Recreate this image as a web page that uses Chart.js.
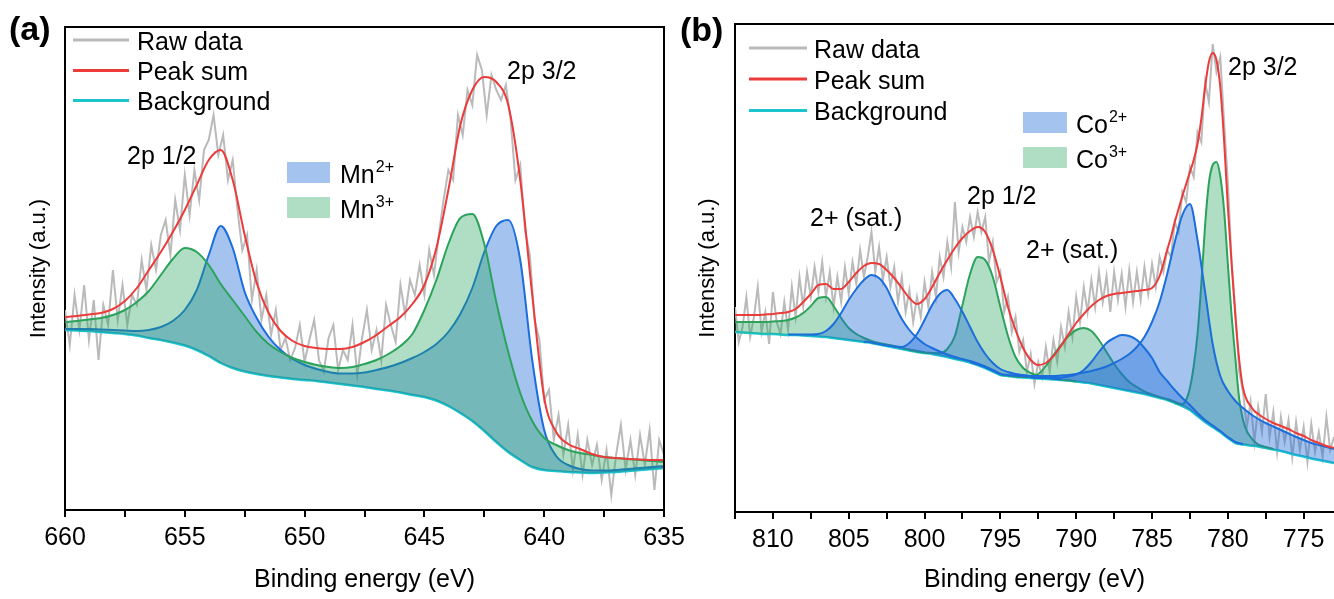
<!DOCTYPE html>
<html>
<head>
<meta charset="utf-8">
<title>Mn 2p and Co 2p XPS spectra</title>
<script src="https://cdn.jsdelivr.net/npm/chart.js@4.4.1/dist/chart.umd.min.js"></script>
<style>
  html, body { margin: 0; padding: 0; background: #fff; }
  #page { position: relative; width: 1334px; height: 599px; overflow: hidden; }
  #wrapA { position: absolute; left: 0; top: 0; width: 700px; height: 599px; }
  #wrapB { position: absolute; left: 667px; top: 0; width: 667px; height: 599px; }
</style>
</head>
<body>
<div id="page">
  <div id="wrapA"><canvas id="mn" width="700" height="599"></canvas></div>
  <div id="wrapB"><canvas id="co" width="667" height="599"></canvas></div>
</div>
<script>
const FONT = "'Liberation Sans', Arial, sans-serif";
const C = {
  raw: '#bababa',
  sum: '#ec3b3b',
  bg: '#1cc4ce',
  blueLine: '#1b6edb',
  greenLine: '#2ca35c',
  blueFill: 'rgba(33,111,216,0.41)',
  greenFill: 'rgba(36,163,91,0.36)'
};

// ---------- panel (a): Mn 2p ----------
const mnTicks = [660, 657.5, 655, 652.5, 650, 647.5, 645, 642.5, 640, 637.5, 635];
const mnGrid = [660, 659.5, 659, 658.5, 658, 657.5, 657, 656.5, 656, 655.5, 655, 654.5, 654, 653.5, 653, 652.5, 652, 651.5, 651, 650.5,
  650, 649.5, 649, 648.5, 648, 647.5, 647, 646.5, 646, 645.5, 645, 644.5, 644, 643.5, 643, 642.5, 642, 641.5, 641, 640.5,
  640, 639.5, 639, 638.5, 638, 637.5, 637, 636.5, 636, 635.5, 635];
const mnBackground = [180, 179.5, 179, 178, 177, 176, 174.5, 172, 170, 167.5, 164.5, 160, 154, 147, 142, 138.5, 136, 134, 132.5, 131,
  130, 129, 127.5, 126, 124.5, 123, 121, 119.5, 117.5, 115, 113, 109.5, 104, 97, 89, 79, 68, 58, 50, 43,
  40, 39, 38, 37.5, 37, 37.5, 38, 39, 40, 41, 42];
const mn2Plus = [181, 181, 181, 180.5, 180, 179.5, 179, 180, 183, 189, 200, 220, 255, 284, 262, 218, 192, 173, 160, 151,
  145, 141, 138, 136.5, 136.5, 137.5, 140, 143, 147, 152, 158, 166, 178, 196, 222, 258, 284, 290, 250, 150,
  80, 54, 45, 41, 39.5, 39.5, 40, 41, 42, 43, 44];
const mn3Plus = [188, 189, 190.5, 192, 195, 200, 208, 219, 235, 251, 262, 258, 245, 226, 210, 194, 178, 166, 158, 152,
  148, 145, 143, 142, 143, 146, 150, 156, 164, 176, 200, 230, 266, 292, 296, 266, 208, 158, 117, 89,
  72, 65, 60, 57, 55, 53, 52, 51, 50, 49, 48];
const mnPeakSum = [193, 194, 195.5, 197, 201, 209, 222, 240, 258, 278, 300, 325, 350, 360, 330, 275, 227, 197, 179, 169,
  164, 162, 161, 161, 163, 168, 175, 184, 193, 206, 225, 262, 320, 385, 420, 433, 428, 405, 330, 215,
  112, 78, 66, 61, 56, 53, 52, 51, 50.5, 50, 50];
// raw spectrum, 0.2 eV channels from 660 eV downwards
const mnRawStart = 660, mnRawStep = 0.2;
const mnRaw = [200, 165, 215, 180, 225, 170, 210, 150, 205, 185,
  240, 190, 225, 185, 215, 205, 250, 220, 265, 240,
  275, 290, 255, 310, 280, 335, 295, 340, 310, 360,
  370, 395, 355, 375, 330, 350, 300, 260, 275, 210,
  240, 190, 215, 175, 200, 160, 172, 150, 162, 185,
  148, 170, 190, 150, 138, 172, 185, 140, 160, 150,
  185, 135, 172, 200, 160, 180, 150, 205, 185, 168,
  225, 195, 230, 215, 245, 215, 260, 235, 275, 310,
  340, 330, 395, 375, 420, 405, 455, 440, 395, 435,
  420, 410, 425, 390, 330, 345, 280, 255, 190, 170,
  110, 120, 70, 95, 55, 85, 40, 75, 35, 70,
  45, 65, 30, 60, 15, 55, 85, 40, 70, 35,
  75, 45, 80, 20, 70, 55];

// ---------- panel (b): Co 2p ----------
const coTicks = [812.5, 810, 807.5, 805, 802.5, 800, 797.5, 795, 792.5, 790, 787.5, 785, 782.5, 780, 777.5, 775];
const coGrid = [812.5, 812, 811.5, 811, 810.5, 810, 809.5, 809, 808.5, 808, 807.5, 807, 806.5, 806, 805.5, 805, 804.5, 804, 803.5, 803,
  802.5, 802, 801.5, 801, 800.5, 800, 799.5, 799, 798.5, 798, 797.5, 797, 796.5, 796, 795.5, 795, 794.5, 794, 793.5, 793,
  792.5, 792, 791.5, 791, 790.5, 790, 789.5, 789, 788.5, 788, 787.5, 787, 786.5, 786, 785.5, 785, 784.5, 784, 783.5, 783,
  782.5, 782, 781.5, 781, 780.5, 780, 779.5, 779, 778.5, 778, 777.5, 777, 776.5, 776, 775.5, 775, 774.5, 774, 773.5, 773];
const coFineE = [784, 783.75, 783.5, 783.25, 783, 782.75, 782.5, 782.25, 782, 781.75, 781.5, 781.25, 781, 780.75, 780.5,
  780.25, 780, 779.75, 779.5, 779.25, 779, 778.75, 778.5, 778.25, 778, 777.75, 777.5, 777.25, 777];
const coBackground = [180, 179.5, 179, 178.5, 178, 178, 177.5, 177, 177, 176.5,
  176, 175.5, 175, 174, 173, 172, 171, 170, 169, 167.5,
  166, 164.5, 163, 161.5, 160, 159, 158, 156.5, 155, 153,
  151.5, 149.5, 147, 144, 140.5, 137, 136, 135, 134.5, 134,
  133.5, 133, 132.5, 132, 131.5, 130.5, 129.5, 128.5, 127, 125.5,
  124, 122.5, 121, 119.5, 118, 116, 114, 112, 109, 106,
  102, 96, 90, 85, 80, 74, 69, 67.5, 66.5, 65.5,
  64, 62.5, 61, 59, 57, 55.5, 53.5, 52, 50.5, 49];
// peak sum: coarse part 812.5-784.5, fine part 784-778, coarse tail 777.5-773
const coSumCoarse = [197, 197, 197, 197, 197.5, 198, 199, 200, 203, 210,
  218, 227, 228, 223, 223, 230, 239, 246, 249, 248,
  242, 234, 224, 214, 208, 213, 225, 239, 252, 264,
  274, 281, 285, 280, 262, 235, 205, 182, 164, 152,
  147, 149, 156, 166, 178, 189, 198, 206, 212, 216,
  218, 219, 220, 221, 222, 224, 236];
const coSumFine = [262, 275, 290, 303, 316, 328, 340, 352, 368, 393, 425, 450, 459, 452, 425, 372, 305, 248, 195, 152,
  124, 112, 106, 101, 98];
const coSumTail = [93, 89, 86, 83, 79, 76, 72, 69, 66, 64];
// Co2+ components (start energy on coGrid, 0.5 eV steps)
const co2SatHighStart = 809;
const co2SatHigh = [177.5, 177.5, 177.5, 177.5, 178, 181, 188, 199, 212, 223, 232, 237, 234, 224, 208, 193, 182, 174, 168, 164,
  160.5, 157.5, 155, 153, 151, 148.5, 145.5, 142, 138];
const co2HalfStart = 804;
const co2Half = [170.5, 169.5, 168, 166.5, 165.5, 165, 169, 178, 192, 207, 218, 222, 213, 200, 185, 170, 158, 149, 143, 140,
  138, 137, 136, 135, 134.5, 133.5, 132.5];
const co2SatLowStart = 793;
const co2SatLow = [134.5, 134, 134, 134, 134.5, 135.5, 137.5, 142, 150, 160, 169, 174, 177, 176, 172, 164, 154, 140, 131, 122,
  114, 107, 99, 92, 86.5, 81, 75, 70, 68];
const co2MainStart = 797;
const co2Main = [150, 147.5, 145, 141.5, 138, 137, 136.5, 136, 136, 136, 136, 136, 136.5, 137, 138, 139.5, 141, 143, 145.5, 149,
  153, 158, 165, 175, 190, 210, 238, 270, 297, 308, 272, 220, 168, 136, 121, 111, 104, 98, 93, 89,
  85.5, 82, 78.5, 75, 72, 69, 67, 65, 63];
// Co3+ components
const co3SatHighStart = 812.5;
const co3SatHigh = [190, 190, 190, 190, 190, 190.5, 191, 192, 194.5, 199, 206, 214, 215, 206, 194, 184, 178, 174, 171, 169,
  167.5, 166, 164, 162.5, 161, 160];
const co3HalfStart = 801;
const co3Half = [162, 160.5, 159.5, 159, 159, 163, 176, 207, 238, 255, 252, 235, 205, 176, 155, 144, 139, 136, 134.5, 133.5,
  132.5, 131.5, 130.5];
const co3SatLowStart = 795;
const co3SatLow = [137.5, 136.5, 135.5, 135, 135, 138, 146, 157, 167, 176, 182, 184, 181, 172, 160, 148, 138, 130, 125, 120.5,
  117.5, 115, 113, 110, 107];
const co3Main = [113, 111.5, 110, 108.5, 108, 112, 124, 146, 178, 228, 287, 329, 347, 350, 336, 302, 248, 196, 153, 113,
  92, 81, 75, 70.5, 67.5, 66, 65, 64, 63];
// raw spectrum, 0.25 eV channels from 812.5 eV downwards
const coRawStart = 812.5, coRawStep = 0.25;
const coRaw = [205, 170, 185, 215, 175, 195, 225, 180, 200, 168,
  220, 190, 178, 210, 182, 225, 195, 235, 205, 240,
  215, 245, 220, 250, 215, 240, 205, 235, 210, 245,
  218, 250, 228, 262, 235, 255, 280, 240, 265, 232,
  255, 225, 245, 210, 235, 200, 222, 190, 215, 195,
  230, 205, 240, 215, 255, 235, 270, 245, 310, 260,
  285, 270, 295, 275, 300, 280, 295, 250, 270, 230,
  240, 200, 215, 180, 195, 160, 172, 140, 158, 128,
  150, 135, 165, 140, 172, 150, 185, 165, 200, 175,
  215, 190, 225, 200, 232, 205, 240, 210, 236, 200,
  240, 212, 238, 205, 242, 210, 240, 212, 245, 218,
  248, 225, 255, 240, 262, 255, 290, 280, 320, 310,
  345, 335, 380, 370, 430, 410, 468, 440, 455, 390,
  330, 250, 200, 140, 120, 85, 110, 70, 105, 80,
  118, 75, 100, 60, 95, 70, 92, 55, 90, 62,
  85, 50, 88, 60, 80, 55, 95, 62, 75];

// ---------- helpers ----------
function zipPts(xs, ys) { return ys.map((y, i) => ({ x: xs[i], y: y })); }
function onGrid(grid, startE, ys) {
  const i0 = grid.indexOf(startE);
  return ys.map((y, i) => ({ x: grid[i0 + i], y: y }));
}
function channels(startE, step, ys) {
  return ys.map((y, i) => ({ x: +(startE - i * step).toFixed(2), y: y }));
}
function line(label, data, color, width) {
  return { label, data, borderColor: color, borderWidth: width, pointRadius: 0, fill: false,
    cubicInterpolationMode: 'monotone' };
}
function comp(label, data, color, fillColor, bgIndex) {
  return { label, data, borderColor: color, backgroundColor: fillColor, borderWidth: 2, pointRadius: 0,
    fill: bgIndex, cubicInterpolationMode: 'monotone' };
}
function rawLine(data) {
  return { label: 'Raw data', data, borderColor: C.raw, borderWidth: 2, pointRadius: 0, fill: false, tension: 0 };
}

// legends, annotations, panel letters and the top/right frame
function decorations(cfg) {
  return {
    id: 'decorations',
    afterDraw(chart) {
      const ctx = chart.ctx;
      const area = chart.chartArea;
      ctx.save();
      ctx.strokeStyle = '#000';
      ctx.lineWidth = 2;
      ctx.beginPath();
      ctx.moveTo(area.left - 1, area.top);
      ctx.lineTo(area.right, area.top);
      if (cfg.frameRight) ctx.lineTo(area.right, area.bottom + 1);
      ctx.stroke();

      ctx.textAlign = 'left';
      ctx.textBaseline = 'alphabetic';
      ctx.fillStyle = '#000';
      ctx.font = 'bold 34px ' + FONT;
      ctx.fillText(cfg.letter, cfg.letterX, cfg.letterY);

      ctx.font = '25px ' + FONT;
      cfg.lines.forEach((row) => {
        ctx.strokeStyle = row.color;
        ctx.lineWidth = 3;
        ctx.beginPath();
        ctx.moveTo(cfg.lineX0, row.y);
        ctx.lineTo(cfg.lineX1, row.y);
        ctx.stroke();
        ctx.fillText(row.label, cfg.lineTextX, row.y + 9.5);
      });

      cfg.boxes.forEach((row) => {
        ctx.fillStyle = row.color;
        ctx.fillRect(cfg.boxX, row.top, cfg.boxW, 21);
        ctx.fillStyle = '#000';
        ctx.font = '25px ' + FONT;
        ctx.fillText(row.label, cfg.boxTextX, row.top + 21);
        const w = ctx.measureText(row.label).width;
        ctx.font = '16px ' + FONT;
        ctx.fillText(row.sup, cfg.boxTextX + w + 1, row.top + 10);
      });

      ctx.font = '25px ' + FONT;
      cfg.notes.forEach((n) => ctx.fillText(n.text, n.x, n.y));
      ctx.restore();
    }
  };
}

function makeOptions(cfg) {
  return {
    responsive: false,
    animation: false,
    events: [],
    layout: { padding: { left: 0, top: cfg.top, right: cfg.right, bottom: 0 } },
    plugins: { legend: { display: false }, tooltip: { enabled: false } },
    scales: {
      x: {
        type: 'linear', reverse: true, min: cfg.min, max: cfg.max,
        afterBuildTicks: (axis) => { axis.ticks = cfg.ticks.map((v) => ({ value: v })); },
        afterFit: (axis) => { axis.height = cfg.xHeight; },
        ticks: {
          autoSkip: false, maxRotation: 0, padding: 6, color: '#000',
          font: { family: FONT, size: 25 },
          callback: (v) => (v % 5 === 0 ? String(v) : '')
        },
        grid: { drawOnChartArea: false, drawTicks: true, tickLength: 7, color: '#000', lineWidth: 2 },
        border: { display: true, color: '#000', width: 2 },
        title: { display: true, text: 'Binding energy (eV)', color: '#000',
          font: { family: FONT, size: 25 }, padding: { top: 4, bottom: 4 } }
      },
      y: {
        min: 0, max: cfg.ymax,
        afterFit: (axis) => { axis.width = cfg.yWidth; },
        ticks: { display: false },
        grid: { display: false, drawTicks: false },
        border: { display: true, color: '#000', width: 2 },
        title: { display: true, text: 'Intensity (a.u.)', color: '#000',
          font: { family: FONT, size: 22 }, padding: { top: cfg.yTitlePad, bottom: 0 } }
      }
    }
  };
}

Chart.defaults.font.family = FONT;

// panel (a)
new Chart(document.getElementById('mn'), {
  type: 'line',
  data: {
    datasets: [
      line('Peak sum', zipPts(mnGrid, mnPeakSum), C.sum, 2),
      comp('Mn3+', zipPts(mnGrid, mn3Plus), C.greenLine, C.greenFill, 3),
      comp('Mn2+', zipPts(mnGrid, mn2Plus), C.blueLine, C.blueFill, 3),
      line('Background', zipPts(mnGrid, mnBackground), C.bg, 2.5),
      rawLine(channels(mnRawStart, mnRawStep, mnRaw))
    ]
  },
  options: makeOptions({ min: 635, max: 660, ticks: mnTicks, ymax: 483, top: 27, right: 36,
    yWidth: 65, xHeight: 89, yTitlePad: 26 }),
  plugins: [decorations({
    frameRight: true,
    letter: '(a)', letterX: 9, letterY: 40,
    lineX0: 73, lineX1: 129, lineTextX: 137,
    lines: [
      { label: 'Raw data', color: C.raw, y: 40 },
      { label: 'Peak sum', color: C.sum, y: 70.5 },
      { label: 'Background', color: C.bg, y: 100.5 }
    ],
    boxX: 287, boxW: 43, boxTextX: 340,
    boxes: [
      { label: 'Mn', sup: '2+', color: C.blueFill, top: 162 },
      { label: 'Mn', sup: '3+', color: C.greenFill, top: 197 }
    ],
    notes: [
      { text: '2p 1/2', x: 127, y: 164 },
      { text: '2p 3/2', x: 507, y: 79 }
    ]
  })]
});

// panel (b)
const coSumE = coGrid.slice(0, 57).concat(coFineE.slice(0, 25), coGrid.slice(70));
const coSum = coSumCoarse.concat(coSumFine, coSumTail);
new Chart(document.getElementById('co'), {
  type: 'line',
  data: {
    datasets: [
      line('Peak sum', zipPts(coSumE, coSum), C.sum, 2),
      comp('Co2+ sat', onGrid(coGrid, co2SatHighStart, co2SatHigh), C.blueLine, C.blueFill, 9),
      comp('Co2+ 2p1/2', onGrid(coGrid, co2HalfStart, co2Half), C.blueLine, C.blueFill, 9),
      comp('Co2+ sat', onGrid(coGrid, co2SatLowStart, co2SatLow), C.blueLine, C.blueFill, 9),
      comp('Co2+ 2p3/2', onGrid(coGrid, co2MainStart, co2Main), C.blueLine, C.blueFill, 9),
      comp('Co3+ sat', onGrid(coGrid, co3SatHighStart, co3SatHigh), C.greenLine, C.greenFill, 9),
      comp('Co3+ 2p1/2', onGrid(coGrid, co3HalfStart, co3Half), C.greenLine, C.greenFill, 9),
      comp('Co3+ sat', onGrid(coGrid, co3SatLowStart, co3SatLow), C.greenLine, C.greenFill, 9),
      comp('Co3+ 2p3/2', zipPts(coFineE, co3Main), C.greenLine, C.greenFill, 9),
      line('Background', zipPts(coGrid, coBackground), C.bg, 2.5),
      rawLine(channels(coRawStart, coRawStep, coRaw))
    ]
  },
  options: makeOptions({ min: 773, max: 812.5, ticks: coTicks, ymax: 488, top: 24, right: 0,
    yWidth: 68, xHeight: 87, yTitlePad: 28 }),
  plugins: [decorations({
    frameRight: false,
    letter: '(b)', letterX: 13, letterY: 41,
    lineX0: 82, lineX1: 140, lineTextX: 147,
    lines: [
      { label: 'Raw data', color: C.raw, y: 48 },
      { label: 'Peak sum', color: C.sum, y: 79 },
      { label: 'Background', color: C.bg, y: 110.5 }
    ],
    boxX: 356, boxW: 44, boxTextX: 409,
    boxes: [
      { label: 'Co', sup: '2+', color: C.blueFill, top: 112 },
      { label: 'Co', sup: '3+', color: C.greenFill, top: 147 }
    ],
    notes: [
      { text: '2+ (sat.)', x: 143, y: 226 },
      { text: '2p 1/2', x: 300, y: 204 },
      { text: '2+ (sat.)', x: 359, y: 258 },
      { text: '2p 3/2', x: 561, y: 75 }
    ]
  })]
});
</script>
</body>
</html>
